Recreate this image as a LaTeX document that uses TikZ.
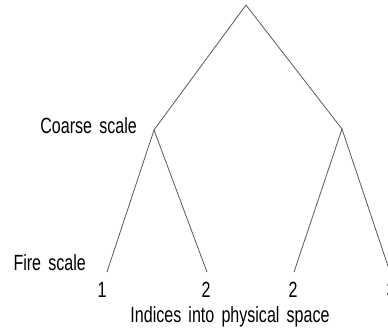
\documentclass[tikz,border=0pt]{standalone}
\usepackage{fontspec}
\setmainfont[FakeStretch=0.73,WordSpace=1.6]{Liberation Sans}
\usetikzlibrary{positioning}

\begin{document}
\begin{tikzpicture}[
    x=1pt, y=-1pt,
    branch/.style={draw=black!65, line width=0.8pt},
    lbl/.style={font=\fontsize{22}{26}\selectfont, inner sep=0pt, text=black},
    idx/.style={font=\fontsize{22}{26}\selectfont, inner sep=0pt, text=black}
]
\useasboundingbox (0,0) rectangle (388,333);

% tree points
\coordinate (root) at (246,5);
\coordinate (coarseL) at (154,130);
\coordinate (coarseR) at (342,129);
\coordinate (fineA) at (107,272);
\coordinate (fineB) at (207,272);
\coordinate (fineC) at (294,272);
\coordinate (fineD) at (390,272);

\draw[branch] (coarseL) -- (root) -- (coarseR);
\draw[branch] (fineA) -- (coarseL) -- (fineB);
\draw[branch] (fineC) -- (coarseR) -- (fineD);

% level labels
\node[lbl, left=17pt of coarseL, yshift=4pt] (coarse) {Coarse scale};
\node[lbl, anchor=east] (fire) at (86,263) {Fire scale};

% indices
\node[idx] (iA) at (102,290) {1};
\node[idx] (iB) at (206,290) {2};
\node[idx] (iC) at (293,290) {2};
\node[idx] (iD) at (391,290) {3};

\node[lbl] (space) at (230,317) {Indices into physical space};
\end{tikzpicture}
\end{document}
